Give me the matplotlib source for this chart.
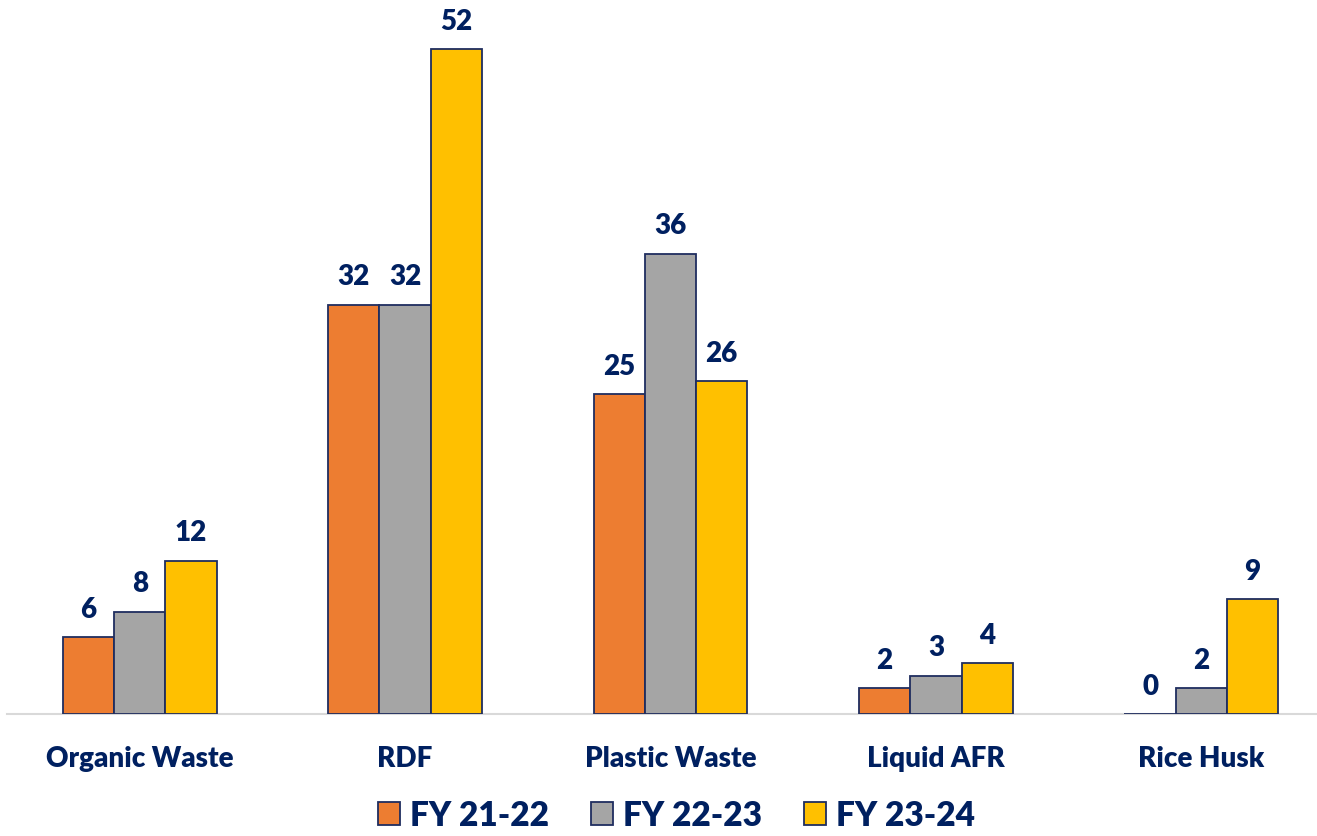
import numpy as np
import matplotlib.pyplot as plt

plt.rcParams['font.family'] = ['Lato', 'DejaVu Sans']

categories = ["Organic Waste", "RDF", "Plastic Waste", "Liquid AFR", "Rice Husk"]
fy_21_22 = [6, 32, 25, 2, 0]
fy_22_23 = [8, 32, 36, 3, 2]
fy_23_24 = [12, 52, 26, 4, 9]

series = [("FY 21-22", fy_21_22, "#ED7D31"),
          ("FY 22-23", fy_22_23, "#A5A5A5"),
          ("FY 23-24", fy_23_24, "#FFC000")]

navy = "#002060"
edge = "#1F2D5F"
weight = "heavy"

fig = plt.figure(figsize=(13.17, 8.37), dpi=100)
ax = fig.add_axes([7 / 1317, 122 / 837, 1 - 7 / 1317, 1 - 122 / 837])

x = np.arange(len(categories))
w = 0.193
for i, (name, vals, col) in enumerate(series):
    pos = x + (i - 1) * w
    bars = ax.bar(pos, vals, w, color=col, edgecolor=edge, linewidth=1.3,
                  label=name, zorder=3)
    for b, v in zip(bars, vals):
        ax.annotate(str(v), (b.get_x() + b.get_width() / 2, v),
                    xytext=(0, 11), textcoords="offset points",
                    ha="center", va="bottom", fontsize=20, fontweight=weight, color=navy)

ax.set_xlim(-0.5, 4.436)
ax.set_ylim(0, 55.9)
ax.set_xticks(x)
ax.set_xticklabels(categories, fontsize=20, fontweight=weight, color=navy)
ax.tick_params(axis="x", length=0, pad=22)
ax.set_yticks([])
for s in ["top", "left", "right"]:
    ax.spines[s].set_visible(False)
ax.spines["bottom"].set_color("#D9D9D9")
ax.spines["bottom"].set_linewidth(1.5)
ax.spines["bottom"].set_zorder(1)

fig.legend(loc="lower center", bbox_to_anchor=(0.5137, -0.03), ncol=3, frameon=False,
           prop={"size": 24, "weight": weight}, labelcolor=navy,
           handlelength=0.67, handleheight=0.67, handletextpad=0.3, columnspacing=1.25)

fig.savefig("out.png", dpi=100)
